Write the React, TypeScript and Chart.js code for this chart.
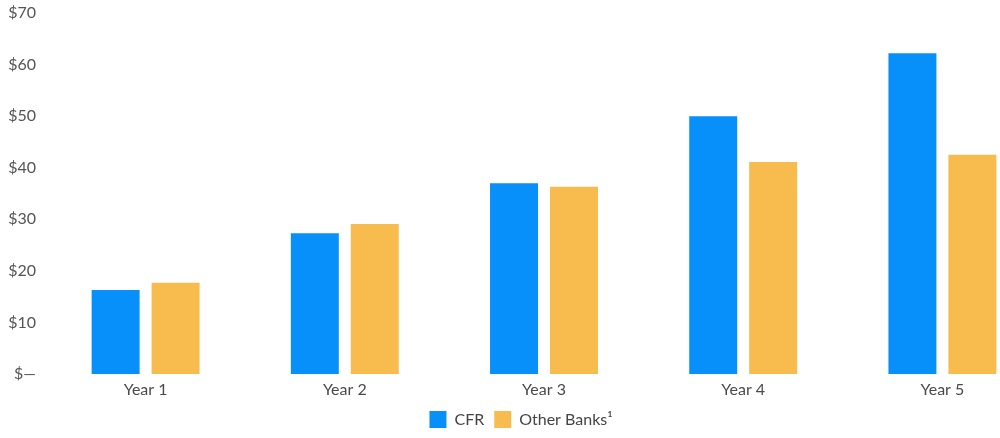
import React, { useEffect, useRef } from "react";
import { Chart, registerables } from "chart.js";

Chart.register(...registerables);

const categories = ["Year 1", "Year 2", "Year 3", "Year 4", "Year 5"];
const cfrValues = [16.3, 27.3, 37.0, 50.0, 62.2];
const otherBanksValues = [17.7, 29.1, 36.3, 41.1, 42.5];
const seriesNames = ["CFR", "Other Banks\u00B9"];
const yTickMax = 70;
const yTickStep = 10;

const FONT = "Lato, 'Open Sans', sans-serif";

export default function App() {
  const canvasRef = useRef<HTMLCanvasElement | null>(null);

  useEffect(() => {
    document.body.style.margin = "0";
    const ctx = canvasRef.current!;
    const chart = new Chart(ctx, {
      type: "bar",
      data: {
        labels: categories,
        datasets: [
          {
            label: seriesNames[0],
            data: cfrValues,
            backgroundColor: "#0790FA",
            categoryPercentage: 0.602,
            barPercentage: 0.8,
          },
          {
            label: seriesNames[1],
            data: otherBanksValues,
            backgroundColor: "#F7BB4E",
            categoryPercentage: 0.602,
            barPercentage: 0.8,
          },
        ],
      },
      options: {
        animation: false,
        responsive: false,
        maintainAspectRatio: false,
        layout: { padding: { top: 13, right: 0, bottom: 0, left: 0 } },
        plugins: {
          tooltip: { enabled: false },
          legend: {
            position: "bottom",
            labels: {
              boxWidth: 17,
              boxHeight: 17,
              padding: 10,
              color: "#444",
              font: { family: FONT, size: 16 },
            },
          },
        },
        scales: {
          x: {
            grid: { display: false, drawTicks: false },
            border: { display: false },
            afterFit: (scale: any) => {
              scale.height = 27;
            },
            ticks: { color: "#4a4a4a", padding: 14, font: { family: FONT, size: 16, lineHeight: 0.25 } },
          },
          y: {
            min: 0,
            max: yTickMax,
            grid: { display: false, drawTicks: false },
            border: { display: false },
            afterFit: (scale: any) => {
              scale.width = 46;
              scale.paddingTop = 0;
              scale.paddingBottom = 0;
            },
            ticks: {
              stepSize: yTickStep,
              padding: 10,
              color: "#555",
              font: { family: FONT, size: 16 },
              callback: (v: any) => (Number(v) === 0 ? "$\u2014" : "$" + v),
            },
          },
        },
      },
    });
    return () => chart.destroy();
  }, []);

  return (
    <div style={{ position: "absolute", left: 0, top: 0, width: 1000, height: 438, overflow: "hidden", background: "#fff" }}>
      <canvas ref={canvasRef} width={1042} height={438} style={{ display: "block" }} />
    </div>
  );
}
